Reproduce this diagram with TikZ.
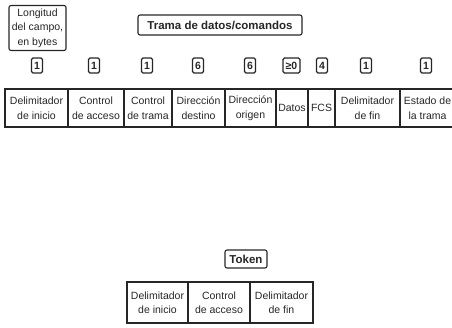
\documentclass[tikz,border=0pt]{standalone}
\usepackage{fontspec}
\setmainfont{Liberation Sans}
\tikzset{
  ink/.style={draw=black!85, line width=1.1pt},
  cell/.style={ink, minimum height=38pt, inner sep=0pt, align=center,
    font=\fontsize{10.5}{14.5}\selectfont, text=black!85},
  tcell/.style={ink, minimum height=41pt, inner sep=0pt, align=center,
    font=\fontsize{10.5}{14.5}\selectfont, text=black!85},
  lenbox/.style={ink, rounded corners=1.5pt, minimum height=15pt, minimum width=11pt,
    inner sep=0.5pt, font=\fontsize{10.5}{10.5}\selectfont\bfseries, text=black!85},
  titlebox/.style={ink, rounded corners=2pt, inner sep=2pt, text=black!85,
    font=\fontsize{11.5}{12}\selectfont\bfseries},
  notebox/.style={ink, rounded corners=2pt, inner sep=1pt, align=center, text=black!85,
    minimum width=57pt, minimum height=45pt,
    font=\fontsize{10.5}{14.5}\selectfont},
}
\begin{document}
\begin{tikzpicture}[x=1pt,y=-1pt]
\useasboundingbox (0,0) rectangle (452,327);

% legend and title
\node[notebox] (legend) at (37.5,28) {Longitud\\del campo,\\en bytes};
\node[titlebox, minimum width=164pt, minimum height=20pt] (frametitle) at (220,25) {Trama de datos/comandos};

% field lengths in bytes
\node[lenbox] (l1) at (37,65.5) {1};
\node[lenbox] (l2) at (94,65.5) {1};
\node[lenbox] (l3) at (147,65.5) {1};
\node[lenbox] (l4) at (198,65.5) {6};
\node[lenbox] (l5) at (250,65.5) {6};
\node[lenbox, minimum width=17pt] (l6) at (291.5,65.5) {≥0};
\node[lenbox] (l7) at (322,65.5) {4};
\node[lenbox] (l8) at (366,65.5) {1};
\node[lenbox] (l9) at (426,65.5) {1};

% data/command frame fields
\node[cell, minimum width=63pt] (f1) at (36.5,108) {Delimitador\\de inicio};
\node[cell, minimum width=56pt] (f2) at (96,108) {Control\\de acceso};
\node[cell, minimum width=48pt] (f3) at (148,108) {Control\\de trama};
\node[cell, minimum width=53pt] (f4) at (198.5,108) {Dirección\\destino};
\node[cell, minimum width=51pt] (f5) at (250.5,108) {Dirección\\origen};
\node[cell, minimum width=32pt] (f6) at (292,108) {Datos};
\node[cell, minimum width=27pt] (f7) at (321.5,108) {FCS};
\node[cell, minimum width=65pt] (f8) at (367.5,108) {Delimitador\\de fin};
\node[cell, minimum width=55pt] (f9) at (427.5,108) {Estado de\\la trama};

% token
\node[titlebox, minimum width=42pt, minimum height=18pt] (tokentitle) at (246,259) {Token};
\node[tcell, minimum width=61pt] (t1) at (157.5,302.5) {Delimitador\\de inicio};
\node[tcell, minimum width=62pt] (t2) at (219,302.5) {Control\\de acceso};
\node[tcell, minimum width=63pt] (t3) at (281.5,302.5) {Delimitador\\de fin};
\end{tikzpicture}
\end{document}
